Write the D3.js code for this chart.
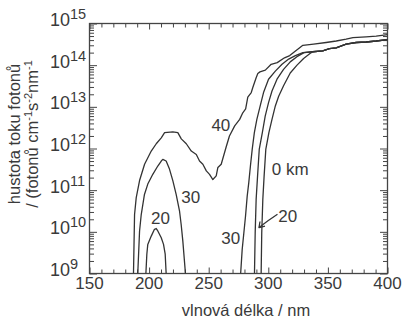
<!DOCTYPE html>
<html lang="cs">
<head>
<meta charset="utf-8">
<title>Hustota toku fotonů</title>
<script src="https://d3js.org/d3.v7.min.js"></script>
<style>
  body { margin: 0; background: white; }
  svg text { font-family: "Liberation Sans", Arial, sans-serif; fill: #3a3a3a; }
  .curve { fill: none; stroke: #333; stroke-width: 1.3; stroke-linejoin: round; }
  .frame { fill: none; stroke: #444; stroke-width: 1.3; }
  .axis path { display: none; }
  .axis line { stroke: #444; stroke-width: 1; }
</style>
</head>
<body>
<script>
// [vlnová délka nm, hustota toku fotonů]
var km40 = [[186.9,1e9],[187.8,2.6e10],[189.2,6.6e10],[192.0,1.7e11],[196.2,4.2e11],[201.8,8.7e11],
  [206.0,1.3e12],[210.2,1.8e12],[213.0,2.4e12],[219.9,2.5e12],[224.1,2.4e12],[227.0,1.7e12],
  [231.2,1.3e12],[235.4,8.7e11],[239.6,7.2e11],[242.3,5.0e11],[245.1,4.2e11],[248.0,2.9e11],
  [250.7,2.4e11],[253.5,1.8e11],[256.3,2.2e11],[257.7,3.5e11],[260.5,4.2e11],[264.7,1.1e12],
  [267.4,2.0e12],[271.8,3.5e12],[276.0,5.0e12],[278.6,7.2e12],[281.0,8.9e12],[282.8,1.7e13],
  [285.7,2.2e13],[287.0,2.9e13],[289.8,5.0e13],[291.2,6.3e13],[293.0,6.9e13],[297.5,7.6e13],
  [302.4,1.05e14],[307.5,1.15e14],[313.6,1.5e14],[318.0,1.7e14],[322.0,2.1e14],[329.0,3.0e14],
  [338.0,3.2e14],[348.5,3.5e14],[357.0,3.8e14],[365.3,4.2e14],[371.0,4.6e14],[382.0,4.8e14],
  [390.5,5.0e14],[400,5.4e14]];
var km30Short = [[190.5,1e9],[192.0,1.05e10],[193.4,2.6e10],[196.1,7.9e10],[198.9,1.4e11],
  [203.1,2.4e11],[207.3,3.8e11],[210.2,5.0e11],[211.5,5.5e11],[214.3,5.0e11],[217.1,3.2e11],
  [219.9,1.7e11],[222.7,7.9e10],[225.5,3.2e10],[226.9,1.5e10],[228.3,6.0e9],[230.5,1e9]];
var km20Short = [[197.3,1e9],[198.1,2.9e9],[198.9,5.0e9],[201.8,7.9e9],[204.5,1.15e10],
  [206.0,1.2e10],[207.3,1.05e10],[210.2,7.2e9],[212.1,5.0e9],[213.5,2.9e9],[214.3,1e9]];
// společná horní část křivek 30, 20 a 0 km
var merged = [[337.3,2.1e14],[345.7,2.2e14],[351.3,2.5e14],[356.9,2.6e14],[365.3,3.2e14],
  [373.7,3.5e14],[382.1,3.6e14],[390.5,3.8e14],[400,4.1e14]];
var km30Long = [[276.8,1e9],[278.1,3.8e9],[279.5,9.5e9],[280.9,2.4e10],[282.3,7.2e10],
  [283.6,1.5e11],[285.0,3.8e11],[286.5,9.5e11],[288.3,2.4e12],[290.4,5.0e12],[293.2,1.05e13],
  [296.0,2.2e13],[300.2,4.6e13],[305.9,7.2e13],[311.5,1.05e14],[317.1,1.4e14],[322.7,1.7e14],
  [329.0,2.0e14]].concat(merged);
var km20Long = [[288.4,1e9],[289.0,9.5e9],[289.8,6.0e10],[291.0,2.2e11],[292.4,9.5e11],
  [295.0,2.4e12],[297.4,6.0e12],[300.2,1.26e13],[303.1,2.4e13],[307.3,4.6e13],[312.8,7.9e13],
  [318.4,1.2e14],[324.0,1.6e14],[330.0,2.0e14]].concat(merged);
var km0 = [[294.0,1e9],[294.5,9.5e9],[295.4,6.0e10],[296.5,2.2e11],[297.9,9.5e11],[300.5,2.4e12],
  [303.1,5.0e12],[305.9,1.05e13],[308.7,1.8e13],[312.8,3.2e13],[318.4,6.5e13],[324.1,1.0e14],
  [329.6,1.45e14],[335.0,1.9e14]].concat(merged);

var series = [km40, km30Short, km20Short, km30Long, km20Long, km0];

var xTicks = [150, 200, 250, 300, 350, 400];
var yDecades = [9, 10, 11, 12, 13, 14, 15];

// popisky křivek: text, vlnová délka, hustota toku, zarovnání
var labels = [
  { t: "40", l: 260.2, v: 2.7e12, a: "middle" },
  { t: "30", l: 235.0, v: 4.8e10, a: "middle" },
  { t: "20", l: 209.6, v: 1.55e10, a: "middle" },
  { t: "30", l: 268.5, v: 5.2e9, a: "middle" },
  { t: "0 km", l: 302.9, v: 2.3e11, a: "start" },
  { t: "20", l: 308.4, v: 1.75e10, a: "start" }
];
var arrowFrom = [307.7, 2.65e10], arrowTo = [292.2, 1.27e10];

var w = 405, h = 318;
var x = d3.scaleLinear().domain([150, 400]).range([89.5, 387.5]);
var y = d3.scaleLog().domain([1e9, 1e15]).range([273.5, 23.5]);

var svg = d3.select("body").append("svg")
  .attr("width", w)
  .attr("height", h);

var defs = svg.append("defs");
defs.append("clipPath").attr("id", "plot")
  .append("rect")
  .attr("x", x(150)).attr("y", y(1e15))
  .attr("width", x(400) - x(150)).attr("height", y(1e9) - y(1e15));

// osy: tiky dovnitř na všech čtyřech stranách
var minorX = d3.range(150, 401, 10).filter(d => d % 50 != 0);
var minorY = [];
yDecades.slice(0, -1).forEach(function (e) {
  for (var k = 2; k < 10; k++) minorY.push(k * Math.pow(10, e));
});
var majorY = yDecades.map(e => Math.pow(10, e));

function addAxis(axis, tx, ty) {
  svg.append("g").attr("class", "axis")
    .attr("transform", `translate(${tx},${ty})`)
    .call(axis)
    .call(g => g.selectAll("text").remove());
}
addAxis(d3.axisBottom(x).tickValues(minorX).tickSize(-4), 0, y(1e9));
addAxis(d3.axisBottom(x).tickValues(xTicks).tickSize(-6), 0, y(1e9));
addAxis(d3.axisTop(x).tickValues(minorX).tickSize(-4), 0, y(1e15));
addAxis(d3.axisTop(x).tickValues(xTicks).tickSize(-6), 0, y(1e15));
addAxis(d3.axisLeft(y).tickValues(minorY).tickSize(-4.5), x(150), 0);
addAxis(d3.axisLeft(y).tickValues(majorY).tickSize(-7.5), x(150), 0);
addAxis(d3.axisRight(y).tickValues(minorY).tickSize(-4.5), x(400), 0);
addAxis(d3.axisRight(y).tickValues(majorY).tickSize(-7.5), x(400), 0);

svg.append("rect").attr("class", "frame")
  .attr("x", x(150)).attr("y", y(1e15))
  .attr("width", x(400) - x(150)).attr("height", y(1e9) - y(1e15));

// popisky os
svg.append("g").selectAll("text")
  .data(xTicks).enter()
  .append("text")
  .attr("x", d => x(d))
  .attr("y", y(1e9) + 15)
  .attr("text-anchor", "middle")
  .attr("font-size", 17)
  .text(d => d);

var yl = svg.append("g").selectAll("text")
  .data(yDecades).enter()
  .append("text")
  .attr("x", 50)
  .attr("y", d => y(Math.pow(10, d)) + 2.5)
  .attr("font-size", 18);
yl.append("tspan").text("10");
yl.append("tspan").attr("font-size", 14.5).attr("dy", -7).text(d => d);

svg.append("text")
  .attr("x", 246)
  .attr("y", 315.5)
  .attr("text-anchor", "middle")
  .attr("font-size", 16.5)
  .text("vlnová délka / nm");

var yt = svg.append("text")
  .attr("transform", "translate(20,134) rotate(-90)")
  .attr("text-anchor", "middle")
  .attr("font-size", 16.5);
yt.append("tspan").attr("x", 0).attr("y", 0).text("hustota toku fotonů");
var t2 = yt.append("tspan").attr("x", 0).attr("y", 18);
var line2 = [["/ (fotonů cm", 0], ["-1", 1], ["s", 0], ["-2", 1], ["nm", 0], ["-1", 1]];
var up = false;
line2.forEach(function (p) {
  var s = yt.append("tspan").text(p[0]);
  if (p[0].indexOf("/") == 0) s.attr("x", 0).attr("y", 18);
  if (p[1] && !up) { s.attr("dy", -6).attr("font-size", 11); up = true; }
  else if (!p[1] && up) { s.attr("dy", 6); up = false; }
});
t2.remove();

// křivky
var line = d3.line().x(d => x(d[0])).y(d => y(d[1]));
svg.append("g").attr("clip-path", "url(#plot)")
  .selectAll("path")
  .data(series).enter()
  .append("path")
  .attr("class", "curve")
  .attr("d", line);

svg.append("g").selectAll("text")
  .data(labels).enter()
  .append("text")
  .attr("x", d => x(d.l))
  .attr("y", d => y(d.v))
  .attr("text-anchor", d => d.a)
  .attr("font-size", 17)
  .text(d => d.t);

// šipka k popisku 20 km
var ax0 = x(arrowFrom[0]), ay0 = y(arrowFrom[1]);
var ax1 = x(arrowTo[0]), ay1 = y(arrowTo[1]);
svg.append("path").attr("class", "curve")
  .attr("d", `M${ax0},${ay0} Q${(ax0 + ax1) / 2 + 1},${ay1 - 8} ${ax1},${ay1}`);
svg.append("path").attr("class", "curve")
  .attr("d", `M${ax1 + 1},${ay1 - 6} L${ax1},${ay1} L${ax1 + 6},${ay1 - 1.5}`);
</script>
</body>
</html>
